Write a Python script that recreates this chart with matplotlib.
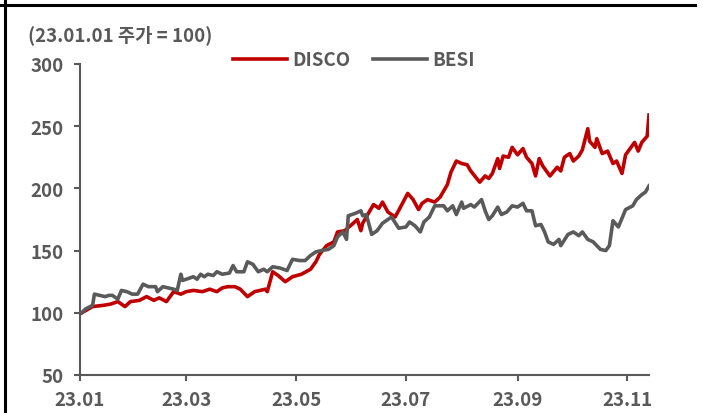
import numpy as np
import pandas as pd
import matplotlib
matplotlib.use("Agg")
import matplotlib.pyplot as plt
import matplotlib.dates as mdates
from matplotlib.lines import Line2D

# -----------------------------
# Datos (23.01.01 = 100)
# -----------------------------
disco_dates = [
    "01-02", "01-08", "01-14", "01-18", "01-22", "01-26", "01-29", "02-03", "02-07", "02-11",
    "02-14", "02-18", "02-22", "02-26", "03-01", "03-05", "03-10", "03-14", "03-18", "03-21",
    "03-24", "03-28", "03-31", "04-04", "04-08", "04-14", "04-15", "04-18", "04-21", "04-25",
    "04-29", "05-04", "05-09", "05-12", "05-14", "05-18", "05-22", "05-24", "05-28", "06-01",
    "06-04", "06-06", "06-07", "06-13", "06-16", "06-18", "06-21", "06-25", "06-28", "07-02",
    "07-05", "07-08", "07-10", "07-13", "07-17", "07-20", "07-24", "07-26", "07-29", "08-01",
    "08-04", "08-06", "08-11", "08-14", "08-16", "08-18", "08-21", "08-22", "08-24", "08-27",
    "08-29", "09-01", "09-04", "09-06", "09-09", "09-11", "09-13", "09-15", "09-19", "09-23",
    "09-25", "09-27", "09-30", "10-02", "10-05", "10-07", "10-10", "10-11", "10-14", "10-15",
    "10-18", "10-21", "10-24", "10-26", "10-29", "10-31", "11-04", "11-05", "11-07", "11-09",
    "11-12", "11-13",
]
disco = [
    100, 105, 106, 107, 109, 105, 109, 110, 113, 110,
    112, 109, 117, 115, 117, 118, 117, 119, 117, 120,
    121, 121, 119, 113, 117, 119, 117, 133, 130, 125,
    129, 131, 135, 141, 147, 154, 157, 165, 166, 171,
    175, 166, 172, 187, 184, 189, 181, 177, 185, 196,
    191, 183, 188, 191, 189, 193, 203, 213, 222, 220,
    219, 214, 205, 210, 208, 212, 224, 216, 226, 225,
    233, 227, 232, 225, 220, 210, 224, 218, 210, 217,
    214, 225, 228, 222, 226, 231, 248, 238, 233, 240,
    228, 230, 220, 222, 212, 227, 235, 237, 230, 237,
    242, 259,
]

besi_dates = [
    "01-02", "01-04", "01-08", "01-09", "01-12", "01-15", "01-17", "01-19", "01-22", "01-24",
    "01-27", "01-30", "02-02", "02-05", "02-08", "02-12", "02-13", "02-16", "02-22", "02-24",
    "02-26", "02-27", "03-01", "03-05", "03-07", "03-09", "03-11", "03-13", "03-16", "03-18",
    "03-21", "03-25", "03-27", "03-29", "04-02", "04-04", "04-07", "04-10", "04-13", "04-15",
    "04-18", "04-22", "04-26", "04-29", "05-03", "05-06", "05-09", "05-12", "05-15", "05-19",
    "05-22", "05-24", "05-27", "05-29", "05-30", "06-03", "06-06", "06-07", "06-09", "06-12",
    "06-15", "06-18", "06-21", "06-23", "06-27", "07-01", "07-03", "07-06", "07-09", "07-11",
    "07-14", "07-17", "07-22", "07-24", "07-27", "07-29", "08-01", "08-02", "08-06", "08-08",
    "08-10", "08-12", "08-14", "08-16", "08-18", "08-21", "08-23", "08-26", "08-29", "09-01",
    "09-04", "09-06", "09-09", "09-11", "09-14", "09-16", "09-18", "09-21", "09-24", "09-25",
    "09-29", "10-02", "10-05", "10-07", "10-10", "10-13", "10-17", "10-20", "10-22", "10-24",
    "10-27", "10-31", "11-04", "11-06", "11-09", "11-11", "11-13",
]
besi = [
    100, 103, 106, 115, 114, 113, 114, 114, 111, 118,
    117, 115, 115, 123, 121, 121, 117, 121, 119, 118,
    131, 126, 127, 129, 127, 131, 129, 131, 130, 133,
    131, 132, 138, 133, 133, 141, 139, 133, 135, 133,
    137, 136, 134, 143, 142, 142, 146, 149, 150, 151,
    154, 161, 165, 159, 178, 180, 182, 178, 179, 163,
    166, 172, 175, 177, 168, 169, 173, 170, 165, 173,
    177, 186, 186, 182, 186, 179, 189, 184, 187, 185,
    188, 191, 182, 175, 178, 185, 179, 181, 186, 185,
    188, 182, 182, 170, 171, 165, 157, 155, 159, 154,
    163, 165, 162, 165, 159, 157, 151, 150, 154, 174,
    169, 183, 186, 191, 195, 197, 202,
]

y_ticks = [50, 100, 150, 200, 250, 300]
x_ticks = ["2023-01-01", "2023-03-01", "2023-05-01", "2023-07-01", "2023-09-01", "2023-11-01"]

disco_t = pd.to_datetime(["2023-" + d for d in disco_dates])
besi_t = pd.to_datetime(["2023-" + d for d in besi_dates])

# -----------------------------
# Estilo
# -----------------------------
plt.rcParams['font.family'] = ['Noto Sans CJK KR', 'DejaVu Sans']
plt.rcParams['font.weight'] = 'bold'
txt = '#595959'
red = '#C00000'
gray = '#5A5A5A'
fs = 13.5
lw = 2.6

W, H = 703, 414
fig = plt.figure(figsize=(W / 100, H / 100), dpi=100)
ax = fig.add_axes([80 / W, 1 - 376 / H, (649 - 80) / W, (376 - 65) / H])

ax.plot(disco_t, disco, color=red, linewidth=lw, label='DISCO', solid_joinstyle='round')
ax.plot(besi_t, besi, color=gray, linewidth=lw, label='BESI', solid_joinstyle='round')

ax.set_ylim(50, 300)
ax.set_xlim(pd.Timestamp("2023-01-01"), pd.Timestamp("2023-11-13"))
ax.set_yticks(y_ticks)
ax.set_xticks(pd.to_datetime(x_ticks))
ax.xaxis.set_major_formatter(mdates.DateFormatter('%y.%m'))

for s in ['top', 'right']:
    ax.spines[s].set_visible(False)
for s in ['left', 'bottom']:
    ax.spines[s].set_color(txt)
    ax.spines[s].set_linewidth(1.5)
ax.spines['left'].set_zorder(0)

ax.tick_params(axis='both', colors=txt, width=1.5, length=4.5, labelsize=fs)
ax.tick_params(axis='y', pad=7)
ax.tick_params(axis='x', pad=6)
for lab in ax.get_xticklabels() + ax.get_yticklabels():
    lab.set_fontweight('bold')

# Titulo de unidad
fig.text(28 / W, 1 - 35 / H, '(23.01.01 주가 = 100)', color=txt, fontsize=fs,
         fontweight='bold', ha='left', va='center')

# Leyenda
handles = [Line2D([], [], color=red, linewidth=lw), Line2D([], [], color=gray, linewidth=lw)]
fig.legend(handles, ['DISCO', 'BESI'], loc='center left',
           bbox_to_anchor=(233 / W, 1 - 61 / H), ncol=2, frameon=False,
           borderpad=0, borderaxespad=0, handlelength=2.9, handletextpad=0.25,
           columnspacing=1.2, prop={'size': fs, 'weight': 'bold'}, labelcolor=txt)

# Marco exterior
fig.add_artist(Line2D([5 / W, 5 / W], [0, 1], color='black', linewidth=2.2,
                      transform=fig.transFigure))
fig.add_artist(Line2D([0, 695 / W], [1 - 6 / H, 1 - 6 / H], color='black', linewidth=2.2,
                      transform=fig.transFigure))

fig.savefig('out.png', dpi=100)
